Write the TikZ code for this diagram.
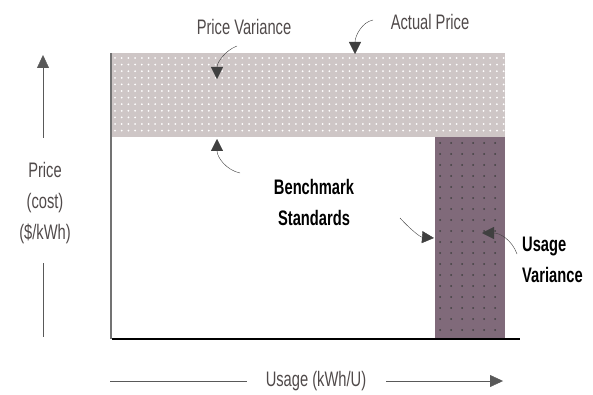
\documentclass[tikz,border=0pt]{standalone}
\usepackage{fontspec}
\setmainfont{Liberation Sans}[FakeStretch=0.7]
\usetikzlibrary{arrows.meta}
\definecolor{bandgray}{RGB}{206,198,198}
\definecolor{barpurple}{RGB}{128,106,122}
\definecolor{labelgray}{RGB}{80,74,74}
\begin{document}
\begin{tikzpicture}[x=1pt,y=-1pt,
    label/.style={font=\fontsize{21}{31}\selectfont, text=labelgray, inner sep=0pt, align=center},
    boldlabel/.style={font=\fontsize{21}{31}\selectfont\bfseries, inner sep=0pt},
    pointer/.style={-{Triangle[length=12pt,width=12pt]}, thin, black!75},
    axisline/.style={thin, black!65}]
  \useasboundingbox (0,0) rectangle (593,395);

    % Draw the shaded bands
  \fill[bandgray] (110,53) rectangle (505,137);
  \foreach \x in {115,121.7,...,504}
    \foreach \y in {58,64.6,...,135}
      \fill[white] (\x,\y) circle (1pt);
  \fill[barpurple] (435,137) rectangle (505,339);
  \foreach \x in {440,451,...,504}
    \foreach \y in {143,154,...,338}
      \fill[black!75] (\x,\y) circle (1pt);

    % Draw the axes of the box
  \draw[line width=2pt, black!55] (111,53) -- (111,339);
  \draw[line width=2.2pt, black] (112,339) -- (520,339);

    % Labels
  \node[label] (pricevar) at (244,27) {Price Variance};
  \node[label] (actual) at (430,22) {Actual Price};
  \node[boldlabel, align=center] (bench) at (314,202) {Benchmark\\Standards};
  \node[boldlabel, align=left, anchor=west] (usagevar) at (522,260) {Usage\\Variance};
  \node[label] (pricecost) at (45,203) {Price\\(cost)\\(\$/kWh)};
  \node[label] (usage) at (316,381) {Usage (kWh/U)};

    % Points the arrows start from and end at
  \coordinate (pvfrom) at (237,46);
  \coordinate (pvtip) at (217,79);
  \coordinate (apfrom) at (373,20);
  \coordinate (aptip) at (355,54);
  \coordinate (bmfrom) at (240,173);
  \coordinate (bmtip) at (217,139);
  \coordinate (barfrom) at (400,218);
  \coordinate (bartip) at (434,238);
  \coordinate (uvfrom) at (517,254);
  \coordinate (uvtip) at (482,233);
  \coordinate (ytop) at (43,55);
  \coordinate (yupper) at (43,138);
  \coordinate (ylower) at (43,263);
  \coordinate (ybot) at (43,337);
  \coordinate (xleft) at (110,381);
  \coordinate (xright) at (503,381);

    % Draw the pointers
  \draw[pointer] (pvfrom) .. controls (226,50) and (217,62) .. (pvtip);
  \draw[pointer] (apfrom) .. controls (362,22) and (355,36) .. (aptip);
  \draw[pointer] (bmfrom) .. controls (226,170) and (217,157) .. (bmtip);
  \draw[pointer] (barfrom) .. controls (410,229) and (420,237) .. (bartip);
  \draw[pointer] (uvfrom) .. controls (512,240) and (500,233) .. (uvtip);

    % Draw the axis arrows
  \draw[axisline, -{Triangle[length=13pt,width=12pt]}] (yupper) -- (ytop);
  \draw[axisline] (ylower) -- (ybot);
  \draw[axisline, shorten >=19pt] (xleft) -- (usage.west |- xleft);
  \draw[axisline, -{Triangle[length=13pt,width=12pt]}] ([xshift=20pt]usage.east |- xright) -- (xright);
\end{tikzpicture}
\end{document}
